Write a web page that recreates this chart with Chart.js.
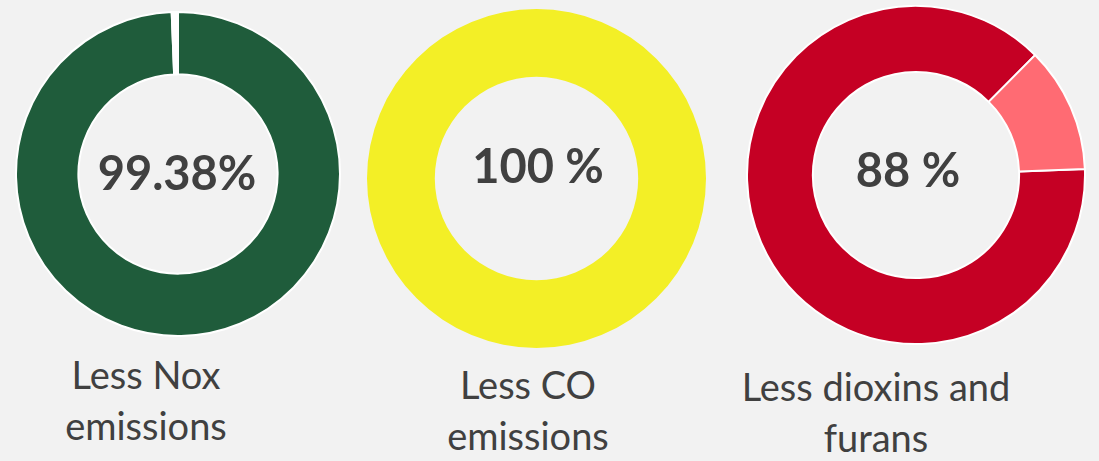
<!DOCTYPE html>
<html>
<head>
<meta charset="utf-8">
<script src="https://cdn.jsdelivr.net/npm/chart.js@4"></script>
<style>
  body { margin: 0; background: #f2f2f2; width: 1099px; height: 461px; overflow: hidden; position: relative; font-family: Lato, sans-serif; }
  .box { position: absolute; }
  .label { position: absolute; text-align: center; color: #404040; font-size: 38px; line-height: 51px; white-space: nowrap; }
</style>
</head>
<body>
<div class="box" id="b1" style="left:15px; top:11px; width:326px; height:326px;"><canvas id="c1"></canvas></div>
<div class="box" id="b2" style="left:367px; top:9px; width:339px; height:339px;"><canvas id="c2"></canvas></div>
<div class="box" id="b3" style="left:746px; top:5px; width:340px; height:340px;"><canvas id="c3"></canvas></div>

<div class="label" id="l1" style="left:-4px; top:349px; width:300px;"></div>
<div class="label" id="l2" style="left:378px; top:359px; width:300px;"></div>
<div class="label" id="l3" style="left:716px; top:361px; width:320px;"></div>

<script>
const categories = [["Less Nox", "emissions"], ["Less CO", "emissions"], ["Less dioxins and", "furans"]];
const centerTexts = ["99.38%", "100 %", "88 %"];

const noxValues = [99.38, 0.62];
const coValues = [100];
const dioxinValues = [88, 12];

const centerText = {
    id: "centerText",
    afterDraw(chart, args, opts) {
        const ctx = chart.ctx;
        const area = chart.chartArea;
        const cx = (area.left + area.right) / 2 + opts.dx;
        const cy = (area.top + area.bottom) / 2 + opts.dy;
        ctx.save();
        ctx.font = "bold 47px Lato";
        ctx.fillStyle = "#404040";
        ctx.textAlign = "center";
        ctx.textBaseline = "alphabetic";
        ctx.fillText(opts.text, cx, cy);
        ctx.restore();
    }
};

function makeDonut(id, values, colors, cutout, rotation, borderWidth, text, dx, dy) {
    const ctx = document.getElementById(id).getContext("2d");
    return new Chart(ctx, {
        type: "doughnut",
        data: {
            labels: values.map((v, i) => "s" + i),
            datasets: [{
                data: values,
                backgroundColor: colors,
                borderColor: "#ffffff",
                borderWidth: borderWidth
            }]
        },
        options: {
            responsive: true,
            maintainAspectRatio: false,
            animation: false,
            cutout: cutout,
            rotation: rotation,
            plugins: {
                legend: { display: false },
                tooltip: { enabled: false },
                centerText: { text: text, dx: dx, dy: dy }
            }
        },
        plugins: [centerText]
    });
}

makeDonut("c1", noxValues, ["#1f5c3b", "#ffffff"], "61.5%", 0, 2, centerTexts[0], -1, 16);
makeDonut("c2", coValues, ["#f3ef26"], "60%", 0, 0, centerTexts[1], 1.5, 4.5);
makeDonut("c3", dioxinValues, ["#c50024", "#ff6b73"], "61%", 88, 2, centerTexts[2], -8, 12);

["l1", "l2", "l3"].forEach((id, i) => {
    document.getElementById(id).innerHTML = categories[i].join("<br>");
});
</script>
</body>
</html>
